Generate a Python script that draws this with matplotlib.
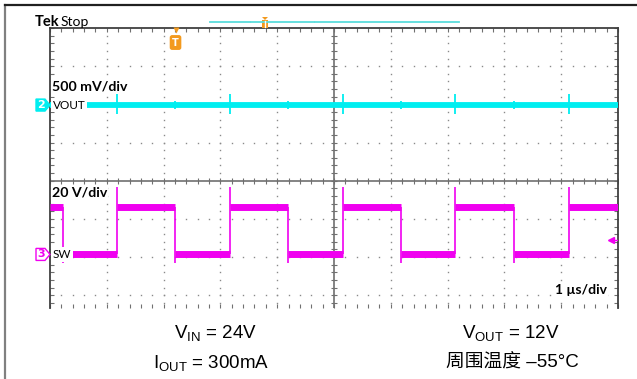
import matplotlib
matplotlib.use('Agg')
import matplotlib.pyplot as plt
from matplotlib.lines import Line2D
from matplotlib.patches import Polygon
import numpy as np

plt.rcParams['font.family'] = ['Liberation Sans', 'Noto Sans CJK SC', 'DejaVu Sans']
plt.rcParams['mathtext.fontset'] = 'custom'
plt.rcParams['mathtext.rm'] = 'Liberation Sans'
plt.rcParams['mathtext.it'] = 'Liberation Sans:italic'

# ---------------- data ----------------
time_per_div_us = 1.0
n_xdiv = 10
# SW node edges (µs)
t_fall_us = [0.23, 2.20, 4.19, 6.18, 8.17]
t_rise_us = [1.18, 3.17, 5.16, 7.13, 9.14]
sw_low_v = 0.0
sw_high_v = 24.8
sw_overshoot_v = 35.3
sw_undershoot_v = -4.6
# VOUT (AC) ripple spikes at edges (V)
vout_base_v = 0.0
vout_spike_rise_v = [0.14, -0.12]
vout_spike_fall_v = [0.06, -0.05]
# channel settings: (volts/div, position in div)
ch2_scale, ch2_pos = 0.5, 1.98
ch3_scale, ch3_pos = 20.0, -1.93
trigger_time_us = 2.21
trigger_level_div = -1.55

CYAN = '#00EEF0'
MAG = '#F000F0'
ORANGE = '#F39A1E'

W, H = 637, 379
fig = plt.figure(figsize=(W / 100, H / 100), dpi=100)


def fp(x, y):
    return x / W, 1 - y / H


L, R, T, B = 50, 618, 28, 307.7
ax = fig.add_axes([L / W, 1 - B / H, (R - L) / W, (B - T) / H])
ax.set_xlim(0, n_xdiv)
ax.set_ylim(-3.325, 4.0)

for s in ['top', 'left', 'right']:
    ax.spines[s].set_color('#404040')
    ax.spines[s].set_linewidth(1.3)
ax.spines['bottom'].set_visible(False)

ax.xaxis.set_major_locator(matplotlib.ticker.MultipleLocator(1))
ax.xaxis.set_minor_locator(matplotlib.ticker.MultipleLocator(0.2))
ax.yaxis.set_major_locator(matplotlib.ticker.MultipleLocator(1))
ax.yaxis.set_minor_locator(matplotlib.ticker.MultipleLocator(0.2))
ax.tick_params(which='both', direction='in', top=True, bottom=True, left=True, right=True,
               labelbottom=False, labelleft=False, length=3, width=0.8, color='#707070')

# grid dots
xs_minor = np.arange(0, n_xdiv + 0.001, 0.2)
ys_minor = np.arange(-3.2, 4.0, 0.2)
for gx in range(1, n_xdiv):
    if gx == 5:
        continue
    ax.plot(np.full_like(ys_minor, gx), ys_minor, ls='none', marker='s', ms=1.0,
            mec='none', mfc='#8a8a8a', zorder=1)
for gy in [-3, -2, -1, 1, 2, 3]:
    ax.plot(xs_minor, np.full_like(xs_minor, gy), ls='none', marker='s', ms=1.0,
            mec='none', mfc='#8a8a8a', zorder=1)
# centre cross
ax.axhline(0, color='#707070', lw=1.2, zorder=1)
ax.axvline(5, color='#707070', lw=1.2, zorder=1)
ax.plot(xs_minor, np.zeros_like(xs_minor), ls='none', marker='|', ms=5, mew=0.8,
        color='#707070', zorder=1)
ax.plot(np.full_like(ys_minor, 5), ys_minor, ls='none', marker='_', ms=5, mew=0.8,
        color='#707070', zorder=1)


def d2(v):
    return v / ch2_scale + ch2_pos


def d3(v):
    return v / ch3_scale + ch3_pos


# ---------------- VOUT trace ----------------
ax.plot([0, n_xdiv * time_per_div_us], [d2(vout_base_v)] * 2, color=CYAN, lw=4.2,
        solid_capstyle='butt', zorder=3)
ax.vlines(t_rise_us, d2(vout_spike_rise_v[1]), d2(vout_spike_rise_v[0]), color=CYAN, lw=1.3, zorder=3)
ax.vlines(t_fall_us, d2(vout_spike_fall_v[1]), d2(vout_spike_fall_v[0]), color=CYAN, lw=1.3, zorder=3)

# ---------------- SW trace ----------------
highs = [(0, t_fall_us[0])] + [(t_rise_us[i], t_fall_us[i + 1]) for i in range(len(t_rise_us) - 1)] \
        + [(t_rise_us[-1], n_xdiv * time_per_div_us)]
lows = [(t_fall_us[i], t_rise_us[i]) for i in range(len(t_fall_us))]
for a, b in highs:
    ax.plot([a, b], [d3(sw_high_v)] * 2, color=MAG, lw=5, solid_capstyle='butt', zorder=3)
for a, b in lows:
    ax.plot([a, b], [d3(sw_low_v)] * 2, color=MAG, lw=5, solid_capstyle='butt', zorder=3)
ax.vlines(t_rise_us, d3(sw_low_v), d3(sw_overshoot_v), color=MAG, lw=1.2, zorder=3)
ax.vlines(t_fall_us, d3(sw_undershoot_v), d3(sw_high_v), color=MAG, lw=1.2, zorder=3)

# ---------------- labels ----------------
bb = dict(fc='white', ec='none', pad=0.6)
ax.text(0.035, 2.48, '500 mV/div', fontsize=10.2, fontweight='bold', family='Lato',
        ha='left', va='center', bbox=bb, zorder=5)
ax.text(0.05, d2(vout_base_v), 'VOUT', fontsize=8.5, family='Lato', ha='left', va='center',
        bbox=dict(fc='white', ec='none', pad=1.2), zorder=5)
ax.text(0.035, -0.32, '20 V/div', fontsize=10.2, fontweight='bold', family='Lato',
        ha='left', va='center', bbox=bb, zorder=5)
ax.text(0.05, d3(sw_low_v), 'SW', fontsize=8.5, family='Lato', ha='left', va='center',
        bbox=dict(fc='white', ec='none', pad=1.2), zorder=5)
ax.text(9.81, -2.86, '1 µs/div', fontsize=10, fontweight='bold', family='Lato',
        ha='right', va='center', bbox=bb, zorder=5)

# trigger level marker (right edge)
ax.plot([9.87], [trigger_level_div], marker='<', ms=5, color=MAG, zorder=6, clip_on=False)
ax.plot([9.87, 10], [trigger_level_div] * 2, color=MAG, lw=1, zorder=6)

# trigger position marker (top)
ax.plot([trigger_time_us], [3.96], marker='v', ms=5, color=ORANGE, mec='none', zorder=6, clip_on=False)
ax.text(trigger_time_us, 3.62, 'T', fontsize=7, fontweight='bold', color='white', ha='center',
        va='center', family='DejaVu Sans', zorder=7,
        bbox=dict(boxstyle='round,pad=0.25', fc=ORANGE, ec='none'))

# channel markers left of plot
for (yc, num, fill, edge, tc) in [(d2(vout_base_v), '2', CYAN, CYAN, 'white'),
                                   (d3(sw_low_v), '3', 'white', MAG, MAG)]:
    ypx = 180.7 - yc * 38.2
    pts = [fp(36, ypx - 6), fp(45, ypx - 6), fp(50, ypx), fp(45, ypx + 6), fp(36, ypx + 6)]
    fig.add_artist(Polygon(pts, closed=True, fc=fill, ec=edge, lw=1, transform=fig.transFigure))
    fig.text(*fp(41, ypx), num, color=tc, fontsize=8, fontweight='bold', ha='center', va='center',
             family='DejaVu Sans')

# ---------------- top status bar ----------------
fig.text(*fp(35, 21.5), 'Tek', fontsize=10.5, fontweight='bold', ha='left', va='center', family='Lato')
fig.text(*fp(61, 21.5), 'Stop', fontsize=10, ha='left', va='center', family='Lato')
for a, b in [(210, 250), (251.5, 313.5), (315, 459)]:
    fig.add_artist(Line2D([a / W, b / W], [1 - 21.5 / H] * 2, color='#5ADCDC', lw=1.3,
                          transform=fig.transFigure))
fig.add_artist(Polygon([fp(262, 17), fp(268, 17), fp(265, 20)], closed=True, fc=ORANGE, ec='none',
                       transform=fig.transFigure))
fig.add_artist(Polygon([fp(262, 20), fp(268, 20), fp(268, 28), fp(262, 28)], closed=True, fc=ORANGE,
                       ec='none', transform=fig.transFigure))
fig.add_artist(Line2D([265 / W] * 2, [1 - 21 / H, 1 - 27 / H], color='white', lw=1,
                      transform=fig.transFigure))

# ---------------- frame lines ----------------
fig.add_artist(Line2D([5 / W, 5 / W], [0, 1 - 5 / H], color='#808080', lw=1.6, transform=fig.transFigure))
fig.add_artist(Line2D([5 / W, 1], [1 - 5 / H] * 2, color='#202020', lw=1.6, transform=fig.transFigure))

# ---------------- captions ----------------
cfs = 13.5
fig.text(*fp(215, 333), r'V$_\mathrm{IN}$ = 24V', fontsize=cfs, ha='center', va='center')
fig.text(*fp(211, 363), r'I$_\mathrm{OUT}$ = 300mA', fontsize=cfs, ha='center', va='center')
fig.text(*fp(511, 333), r'V$_\mathrm{OUT}$ = 12V', fontsize=cfs, ha='center', va='center')
fig.text(*fp(512, 363), '周围温度 –55°C', fontsize=cfs, ha='center', va='center',
         family=['Liberation Sans', 'Noto Sans CJK SC'])

fig.savefig('out.png', dpi=100)
